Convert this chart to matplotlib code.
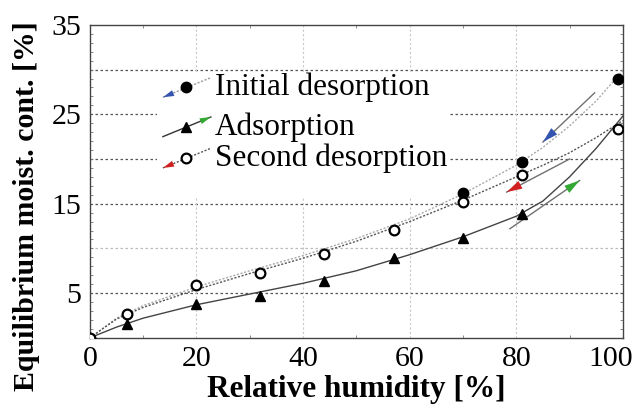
import matplotlib.pyplot as plt
import matplotlib.transforms as mtransforms
from matplotlib.patches import Rectangle
from matplotlib.ticker import MultipleLocator

# measured points
rh_ads = [0, 7, 20, 32, 44, 57, 70, 81]
adsorption = [0.0, 1.6, 3.8, 4.7, 6.4, 8.9, 11.2, 13.9]
rh_init = [70, 81, 99]
init_des = [16.2, 19.7, 28.9]
rh_second = [0, 7, 20, 32, 44, 57, 70, 81, 99]
second_des = [0.0, 2.7, 5.9, 7.2, 9.4, 12.1, 15.2, 18.2, 23.4]

# fitted curves
rh_fit = [0, 5, 10, 20, 30, 40, 50, 60, 70, 80, 85, 90, 95, 100]
fit_init = [0.0, 2.2, 3.6, 5.7, 7.5, 9.2, 11.1, 13.3, 16.1, 19.3, 21.3, 23.7, 26.5, 29.9]
fit_second = [0.0, 2.1, 3.4, 5.4, 7.2, 8.9, 10.8, 13.0, 15.4, 18.0, 19.3, 20.7, 22.4, 24.3]
fit_ads = [0.0, 1.2, 2.2, 3.7, 4.9, 6.1, 7.5, 9.3, 11.3, 13.6, 15.3, 18.0, 21.2, 24.8]

# direction arrows (start, end) in data units
arrow_init = [(94.7, 27.4), (85.0, 21.9)]
arrow_ads = [(78.8, 12.2), (91.9, 17.6)]
arrow_second = [(90.0, 20.0), (78.2, 16.3)]

plt.rcParams["font.family"] = "Liberation Serif"

fig = plt.figure(figsize=(6.33, 4.08), dpi=100)
ax = fig.add_axes([0.142, 0.172, 0.842, 0.767])

ax.set_xlim(0, 100)
ax.set_ylim(0, 35)
ax.set_xticks([0, 20, 40, 60, 80, 100])
ax.set_yticks([5, 15, 25, 35])
ax.xaxis.set_minor_locator(MultipleLocator(10))
ax.yaxis.set_minor_locator(MultipleLocator(1))
ax.tick_params(which="both", direction="in", top=True, right=True,
               labelsize=21.5, length=0, pad=6)
ax.tick_params(which="minor", length=2, width=0.6, color="#777777")

# last x tick label sits a bit to the left, as in the original
last = ax.get_xticklabels()[-1]
last.set_transform(last.get_transform() +
                   mtransforms.ScaledTranslation(-0.12, 0, fig.dpi_scale_trans))

# grid
for y in [5, 10, 15, 20, 25, 30]:
    c = "#bbbbbb" if y == 10 else "#555555"
    ax.axhline(y, color=c, ls=(0, (2, 2)), lw=0.9, zorder=0)
for x in [20, 40, 60, 80]:
    ax.axvline(x, color="#c8c8c8", ls=(0, (2, 2)), lw=0.8, zorder=0)

for s in ax.spines.values():
    s.set_color("#444444")
    s.set_linewidth(1.0)

# white box behind legend
ax.add_patch(Rectangle((12.6, 15.6), 54.6, 14.0, facecolor="white",
                       edgecolor="none", zorder=1))

# curves
ax.plot(rh_fit, fit_init, color="#aaaaaa", ls=(0, (1.5, 1.2)), lw=1.0, zorder=2)
ax.plot(rh_fit, fit_second, color="#555555", ls=(0, (1.5, 1.2)), lw=1.0, zorder=2)
ax.plot(rh_fit, fit_ads, color="#444444", ls="-", lw=1.0, zorder=2)

# points
ax.plot(rh_init, init_des, "o", color="black", ms=7.5, zorder=4)
ax.plot(rh_ads, adsorption, "^", color="black", ms=7.5, zorder=4)
ax.plot(rh_second, second_des, "o", mfc="white", mec="black", mew=1.6,
        ms=7, zorder=4)


def head(tip, tail, color, size):
    ax.annotate("", xy=tip, xytext=tail,
                arrowprops=dict(arrowstyle="-|>,head_length=0.8,head_width=0.22",
                                color=color, lw=0.01, shrinkA=0, shrinkB=0,
                                mutation_scale=size), zorder=5)


def draw_arrow(p0, p1, head_color):
    ax.plot([p0[0], p1[0]], [p0[1], p1[1]], color="#707070", lw=1.0, zorder=3)
    tail = (p1[0] - (p1[0] - p0[0]) * 0.3, p1[1] - (p1[1] - p0[1]) * 0.3)
    head(p1, tail, head_color, 14)


draw_arrow(arrow_init[0], arrow_init[1], "#3355b0")
draw_arrow(arrow_ads[0], arrow_ads[1], "#33a833")
draw_arrow(arrow_second[0], arrow_second[1], "#d02020")

# legend drawn by hand
leg_rows = [
    ("Initial desorption", 28.0, "o", "black", "#3355b0", (0, (1.5, 1.2)), "#999999", "down"),
    ("Adsorption", 23.6, "^", "black", "#33a833", "-", "#333333", "up"),
    ("Second desorption", 20.1, "o", "white", "#d02020", (0, (1.5, 1.2)), "#555555", "down"),
]
for label, y, mk, fc, hc, ls, lc, way in leg_rows:
    x0, y0 = 13.7, y - 1.1
    x1, y1 = 22.7, y + 1.1
    ax.plot([x0, x1], [y0, y1], color=lc, ls=ls, lw=1.0, zorder=3)
    if way == "down":
        head((x0, y0), (x0 + 3.0, y0 + 0.73), hc, 10)
    else:
        head((x1, y1), (x1 - 3.0, y1 - 0.73), hc, 10)
    ax.plot([18.0], [y], mk, mfc=fc, mec="black",
            mew=1.6 if fc == "white" else 1, ms=7.5 if fc != "white" else 7,
            zorder=4)
    ax.text(23.4, y, label, fontsize=22.5, va="center", ha="left", zorder=5)

ax.set_xlabel("Relative humidity [%]", fontsize=22.5, fontweight="bold",
              labelpad=2)
ax.set_ylabel("Equilibrium moist. cont. [%]", fontsize=21.5, fontweight="bold")
ax.yaxis.set_label_coords(-0.094, 0.42)

fig.savefig("out.png", dpi=100)
